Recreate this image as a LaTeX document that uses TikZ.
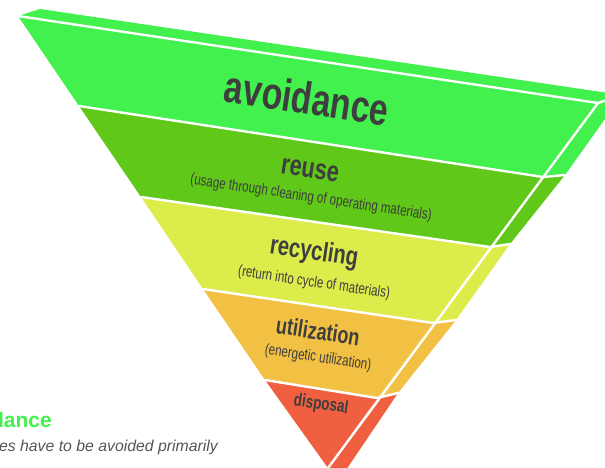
\documentclass[tikz,border=0pt]{standalone}
\usepackage{fontspec}
\setmainfont{Liberation Sans}
\newfontfamily\condfont[FakeStretch=0.75]{Liberation Sans}
\definecolor{cavoid}{HTML}{42F04E}
\definecolor{creuse}{HTML}{60C818}
\definecolor{crecyc}{HTML}{DCEC4A}
\definecolor{cutil}{HTML}{F2C042}
\definecolor{cdisp}{HTML}{F06040}
\definecolor{ctext}{HTML}{3E3E3E}
\definecolor{cgray}{HTML}{555555}
\tikzset{
  sep/.style={draw=white,line width=2.4pt,line cap=round,line join=round},
  title/.style={text=ctext,inner sep=0pt,rotate=-8.5},
  sub/.style={text=ctext,inner sep=0pt,rotate=-8.5},
}
\begin{document}
\begin{tikzpicture}[x=1pt,y=-1pt]
\useasboundingbox (0,0) rectangle (605,467);
\clip (0,0) rectangle (605,467);
% top strip
\fill[cavoid] (18,16) -- (40,9) -- (622,95) -- (598,103) -- cycle;
% front bands
\fill[cavoid] (18,16) -- (598,103) -- (543,177) -- (79,106) -- cycle;
\fill[creuse] (79,106) -- (543,177) -- (490,247) -- (141,197) -- cycle;
\fill[crecyc] (141,197) -- (490,247) -- (433,323) -- (203,289) -- cycle;
\fill[cutil] (203,289) -- (433,323) -- (377,398) -- (265,380) -- cycle;
\fill[cdisp] (265,380) -- (377,398) -- (328,468) -- cycle;
% side bands
\fill[cavoid] (598,103) -- (622,95) -- (565,175) -- (543,177) -- cycle;
\fill[creuse] (543,177) -- (565,175) -- (510,244) -- (490,247) -- cycle;
\fill[crecyc] (490,247) -- (510,244) -- (456,320) -- (433,323) -- cycle;
\fill[cutil] (433,323) -- (456,320) -- (398,393) -- (377,398) -- cycle;
\fill[cdisp] (377,398) -- (398,393) -- (346,470) -- (328,470) -- cycle;
% white separators
\draw[sep] (18,16) -- (598,103) -- (328,468);
\draw[sep] (79,106) -- (543,177) -- (565,175);
\draw[sep] (141,197) -- (490,247) -- (510,244);
\draw[sep] (203,289) -- (433,323) -- (456,320);
\draw[sep] (265,380) -- (377,398) -- (398,393);
\draw[sep] (598,103) -- (622,95);
% texts
\node[title,font=\condfont\bfseries\fontsize{45}{45}\selectfont] (tavoid) at (307,98) {avoidance};
\node[title,font=\condfont\bfseries\fontsize{29}{29}\selectfont] (treuse) at (310,170) {reuse};
\node[sub,font=\condfont\fontsize{15.5}{15.5}\selectfont] (sreuse) at (311,198) {(usage through cleaning of operating materials)};
\node[title,font=\condfont\bfseries\fontsize{27}{27}\selectfont] (trecyc) at (314,253) {recycling};
\node[sub,font=\condfont\fontsize{15.5}{15.5}\selectfont] (srecyc) at (314,283) {(return into cycle of materials)};
\node[title,font=\condfont\bfseries\fontsize{24}{24}\selectfont] (tutil) at (318,331) {utilization};
\node[sub,font=\condfont\fontsize{15.5}{15.5}\selectfont] (sutil) at (318,358) {(energetic utilization)};
\node[title,font=\condfont\bfseries\fontsize{18}{18}\selectfont] (tdisp) at (321,405) {disposal};
% legend (cut off at the left edge)
\node[anchor=base east,inner sep=0pt,text=cavoid,font=\bfseries\fontsize{21}{21}\selectfont] (lhead) at (52,427) {Avoidance};
\node[anchor=base east,inner sep=0pt,text=cgray,font=\itshape\fontsize{15.8}{15.8}\selectfont] (ltext) at (218,451) {Wastes have to be avoided primarily};
\end{tikzpicture}
\end{document}
